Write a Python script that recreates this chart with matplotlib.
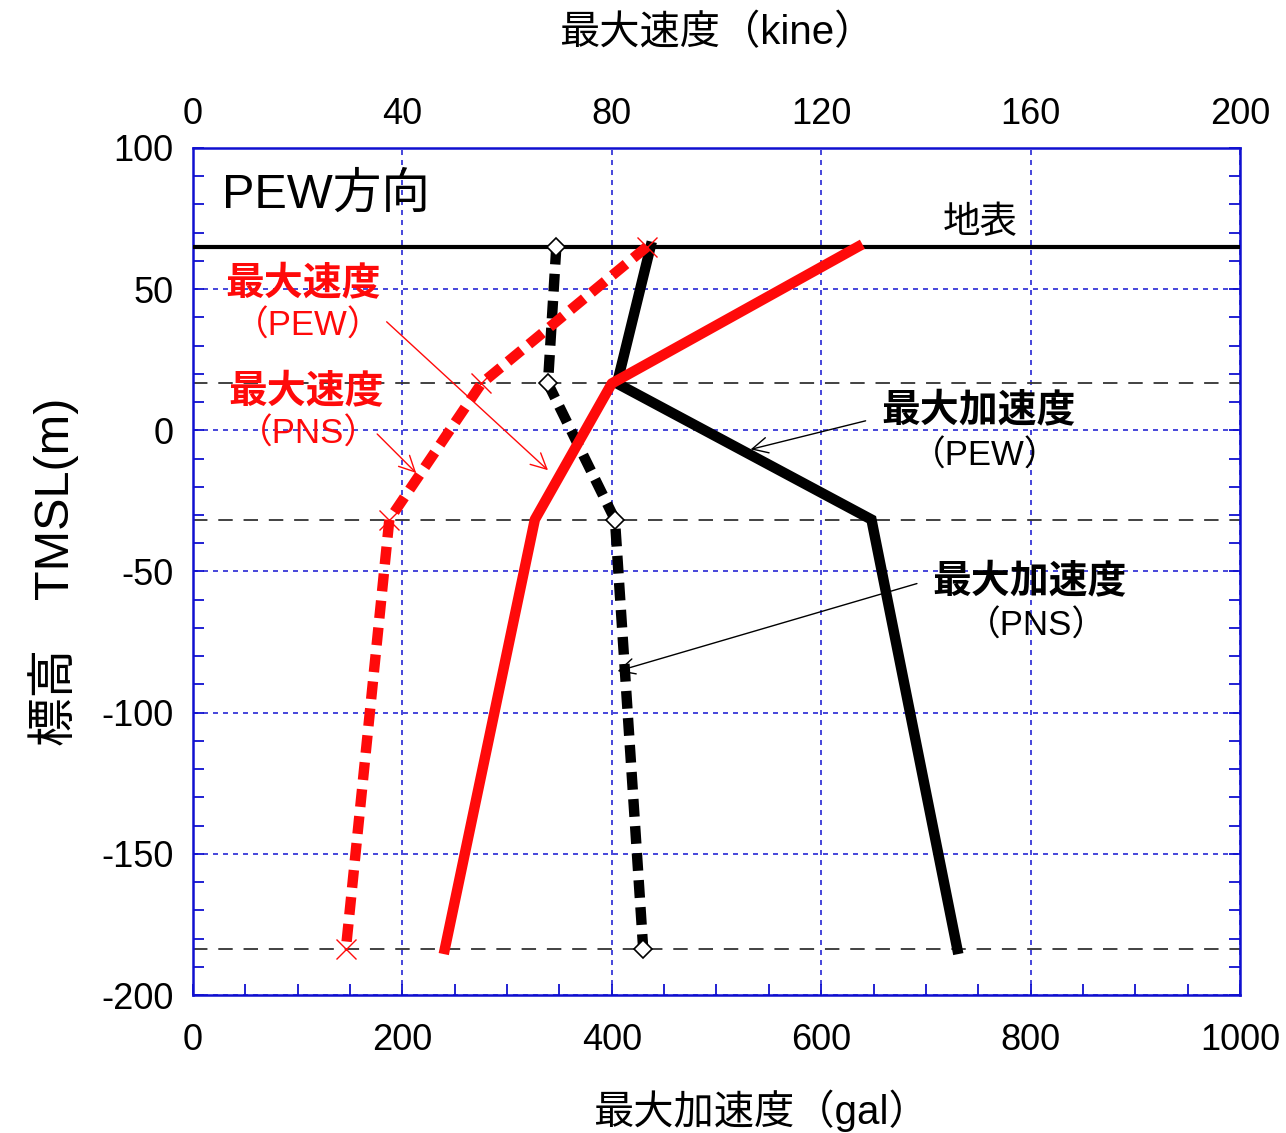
import matplotlib
matplotlib.use('Agg')
import matplotlib.pyplot as plt
from matplotlib.ticker import MultipleLocator

plt.rcParams['font.family'] = ['Liberation Sans', 'Noto Sans CJK JP', 'DejaVu Sans']
plt.rcParams['axes.unicode_minus'] = False

# elevation levels (TMSL, m)
levels = [65, 16.6, -31.6, -183.7]
surface_level = 65

# max acceleration (gal)
acc_pew = [437, 405, 648, 730]
acc_pns = [347, 339, 403, 430]

# max velocity (kine)
vel_pew = [127.0, 80.0, 65.3, 48.1]
vel_pns = [86.7, 55.1, 37.5, 29.2]

acc_ticks = [0, 200, 400, 600, 800, 1000]
vel_ticks = [0, 40, 80, 120, 160, 200]
elev_ticks = [100, 50, 0, -50, -100, -150, -200]

BLUE = '#1010d0'
RED = '#ff0a0a'

fig = plt.figure(figsize=(12.86, 11.33), dpi=100)
ax = fig.add_axes([0.1501, 0.1218, 0.8141, 0.7476])
ax.set_xlim(0, 1000)
ax.set_ylim(-200, 100)
ax.set_xticks(acc_ticks)
ax.set_yticks(elev_ticks)
ax.xaxis.set_minor_locator(MultipleLocator(50))
ax.yaxis.set_minor_locator(MultipleLocator(10))

for s in ax.spines.values():
    s.set_color(BLUE)
    s.set_linewidth(1.8)

ax.grid(True, which='major', color=BLUE, linestyle=(0, (3, 3)), linewidth=1.2, alpha=0.9)
ax.tick_params(which='both', direction='in', color=BLUE, top=True, right=True,
               labeltop=False, width=1.3, length=8)
ax.tick_params(axis='x', labelsize=26, pad=20)
ax.tick_params(axis='y', labelsize=26, pad=14)

# data levels
for lv in levels[1:]:
    ax.axhline(lv, color='#333333', linestyle=(0, (8, 6)), linewidth=1.3, zorder=2)
ax.axhline(surface_level, color='black', linewidth=3, zorder=3)

# acceleration lines
ax.plot(acc_pew, levels, color='black', linewidth=7.5, solid_joinstyle='miter', zorder=4)
ax.plot(acc_pns, levels, color='black', linewidth=7.5, linestyle=(0, (1.7, 0.9)),
        marker='D', markersize=9, markerfacecolor='white', markeredgecolor='black',
        markeredgewidth=1.2, zorder=4)

ax.set_xlabel('最大加速度（gal）', fontsize=29)
ax.xaxis.set_label_coords(0.542, -0.112)
ax.set_ylabel('標高　TMSL(m)', fontsize=35, labelpad=16)

# velocity axis on top
axv = ax.twiny()
axv.set_xlim(0, 200)
axv.set_xticks(vel_ticks)
axv.tick_params(axis='x', which='both', top=False, labelsize=26, pad=8)
for s in axv.spines.values():
    s.set_visible(False)
axv.set_xlabel('最大速度（kine）', fontsize=29, labelpad=38)

axv.plot(vel_pew, levels, color=RED, linewidth=7.5, zorder=4)
axv.plot(vel_pns, levels, color=RED, linewidth=7.5, linestyle=(0, (1.7, 0.9)),
         marker='x', markersize=14, markeredgewidth=1.0, zorder=4)

# texts
ax.text(28, 83.4, 'PEW方向', fontsize=35, ha='left', va='center')
ax.text(752, 67, '地表', fontsize=27, ha='center', va='bottom')

ax.text(105, 51.5, '最大速度', fontsize=28, fontweight='bold', color=RED,
        ha='center', va='center')
ax.text(110, 36.8, '（PEW）', fontsize=25, color=RED, ha='center', va='center')
ax.text(108, 13.2, '最大速度', fontsize=28, fontweight='bold', color=RED,
        ha='center', va='center')
ax.text(110, -1.5, '（PNS）', fontsize=25, color=RED, ha='center', va='center')

ax.text(750, 6.5, '最大加速度', fontsize=28, fontweight='bold', color='black',
        ha='center', va='center')
ax.text(757, -9.2, '（PEW）', fontsize=25, color='black', ha='center', va='center')
ax.text(799, -54, '最大加速度', fontsize=28, fontweight='bold', color='black',
        ha='center', va='center')
ax.text(806, -69.5, '（PNS）', fontsize=25, color='black', ha='center', va='center')

arrow_red = dict(arrowstyle='->', color=RED, lw=1.0, mutation_scale=28)
arrow_blk = dict(arrowstyle='->', color='black', lw=1.0, mutation_scale=28)
ax.annotate('', xy=(341, -14.8), xytext=(183, 39.1), arrowprops=arrow_red, zorder=6)
ax.annotate('', xy=(215, -15.8), xytext=(174, -0.6), arrowprops=arrow_red, zorder=6)
ax.annotate('', xy=(530, -7), xytext=(645, 3.6), arrowprops=arrow_blk, zorder=6)
ax.annotate('', xy=(403, -85.6), xytext=(694, -54), arrowprops=arrow_blk, zorder=6)

fig.savefig('out.png', dpi=100)
